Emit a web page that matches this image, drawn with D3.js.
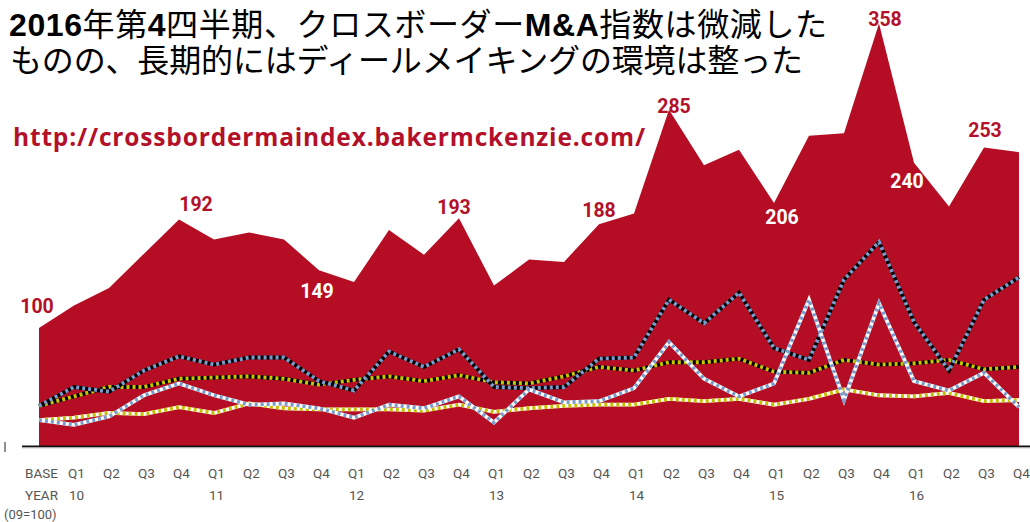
<!DOCTYPE html>
<html><head><meta charset="utf-8">
<script src="https://cdn.jsdelivr.net/npm/d3@7"></script>
<style>
html,body{margin:0;padding:0;background:#fff;}
svg{display:block;}
</style></head>
<body>
<svg id="chart" width="1030" height="522"></svg>
<script>
// ---- data ----
const quarters = ["BASE","Q1","Q2","Q3","Q4","Q1","Q2","Q3","Q4","Q1","Q2","Q3","Q4","Q1","Q2","Q3","Q4","Q1","Q2","Q3","Q4","Q1","Q2","Q3","Q4","Q1","Q2","Q3","Q4"];
const years = ["YEAR","10","","","","11","","","","12","","","","13","","","","14","","","","15","","","","16","","",""];
const indexValues = [100,119,134,163,192,175,181,175,149,139,183,162,193,136,158,156,188,197,285,238,251,206,263,265,358,240,203,253,249];
const seriesA = [34,50,46,64,76,69,75,75,55,47,80,67,82,50,49,50,74,75,124,104,130,83,73,141,173,105,64,124,143];
const seriesB = [34,42,50,50,57,58,59,57,52,56,59,55,60,54,53,59,67,64,71,71,74,63,62,73,69,70,73,65,67];
const seriesC = [22,18,25,43,53,43,35,36,32,24,35,32,42,20,48,37,38,49,88,57,42,53,124,39,121,55,47,62,33];
const seriesD = [22,24,28,27,33,28,36,32,31,31,31,30,35,29,32,34,35,35,40,38,40,35,40,48,43,42,45,38,39];
const labelIdx = [0,4,8,12,16,18,21,24,25,27];
const labelInside = [false,false,true,false,false,false,true,false,true,false];

// ---- layout / style (not data) ----
const labelOffsets = [[-2,-15],[17,-8],[-2,28],[-5,-4],[0,-7],[5,3],[8,21],[6,2],[-7,25],[1,-10]];
const RED = "#b50d24";

const svg = d3.select("#chart");
const idx = d3.range(indexValues.length);
const x = d3.scalePoint().domain(idx).range([39, 1019]);
const y = d3.scaleLinear().domain([0, 378]).range([446, 0]);

// area
const area = d3.area().x((d,i)=>x(i)).y0(y(0)).y1(d=>y(d));
svg.append("path").datum(indexValues).attr("d", area).attr("fill", RED);

// baseline
svg.append("line").attr("x1",22).attr("x2",1030).attr("y1",y(0)+0.5).attr("y2",y(0)+0.5)
  .attr("stroke","#111").attr("stroke-width",2);
svg.append("line").attr("x1",22).attr("x2",1030).attr("y1",y(0)+2).attr("y2",y(0)+2)
  .attr("stroke","#ccc").attr("stroke-width",1);
svg.append("line").attr("x1",5).attr("x2",5).attr("y1",y(0)-4).attr("y2",y(0)+6)
  .attr("stroke","#444").attr("stroke-width",1.2);

// lines
const line = d3.line().x((d,i)=>x(i)).y(d=>y(d));
const lineDefs = [
  {data: seriesB, base:"#000", dash:"#cbc400"},
  {data: seriesA, base:"#000", dash:"#7a9ccb"},
  {data: seriesD, base:"#fff", dash:"#c8be00"},
  {data: seriesC, base:"#fff", dash:"#7a9ccb"}
];
lineDefs.forEach(s=>{
  svg.append("path").datum(s.data).attr("d", line).attr("fill","none")
    .attr("stroke", s.base).attr("stroke-width",3.8).attr("stroke-linejoin","miter");
  svg.append("path").datum(s.data).attr("d", line).attr("fill","none")
    .attr("stroke", s.dash).attr("stroke-width",3.8).attr("stroke-dasharray","3 3");
});

// value labels
labelIdx.forEach((k,j)=>{
  svg.append("text")
    .attr("x", x(k)+labelOffsets[j][0]).attr("y", y(indexValues[k])+labelOffsets[j][1])
    .attr("text-anchor","middle")
    .attr("font-family","Roboto, sans-serif").attr("font-weight",700).attr("font-size",19.5)
    .attr("fill", labelInside[j] ? "#fff" : "#b3102a")
    .text(indexValues[k]);
});

// x axis labels
const axisG = svg.append("g").attr("transform","translate(2,0)");
const ax1 = d3.axisBottom(x).tickSize(0).tickFormat(i=>quarters[i]);
const g1 = axisG.append("g").attr("transform",`translate(0,${465})`).call(ax1);
const ax2 = d3.axisBottom(x).tickSize(0).tickFormat(i=>years[i]);
const g2 = axisG.append("g").attr("transform",`translate(0,${487})`).call(ax2);
[g1,g2].forEach(g=>{
  g.select(".domain").remove();
  g.selectAll("text").attr("font-family","Roboto, sans-serif").attr("font-size",13.5)
   .attr("fill","#555");
});
svg.append("text").attr("x",4).attr("y",519).attr("font-family","Roboto, sans-serif")
  .attr("font-size",13).attr("fill","#555").text("(09=100)");

// title
const tf = "'Liberation Sans', 'Noto Sans CJK JP', sans-serif";
const t1 = svg.append("text").attr("x",9).attr("y",36).attr("font-family",tf)
  .attr("font-size",32).attr("fill","#000").attr("textLength",818).attr("lengthAdjust","spacing");
[["2016",700],["年第",400],["4",700],["四半期、クロスボーダー",400],["M&A",700],["指数は微減した",400]]
  .forEach(p=>t1.append("tspan").attr("font-weight",p[1]).text(p[0]));
svg.append("text").attr("x",10).attr("y",72).attr("font-family",tf)
  .attr("font-size",32).attr("fill","#000").attr("textLength",793).attr("lengthAdjust","spacing")
  .text("ものの、長期的にはディールメイキングの環境は整った");

// url
svg.append("text").attr("x",13).attr("y",146)
  .attr("font-family","'Open Sans', sans-serif").attr("font-weight",700).attr("font-size",24.5)
  .attr("fill","#b3102a").attr("textLength",632).attr("lengthAdjust","spacing")
  .text("http://crossbordermaindex.bakermckenzie.com/");
</script>
</body></html>
